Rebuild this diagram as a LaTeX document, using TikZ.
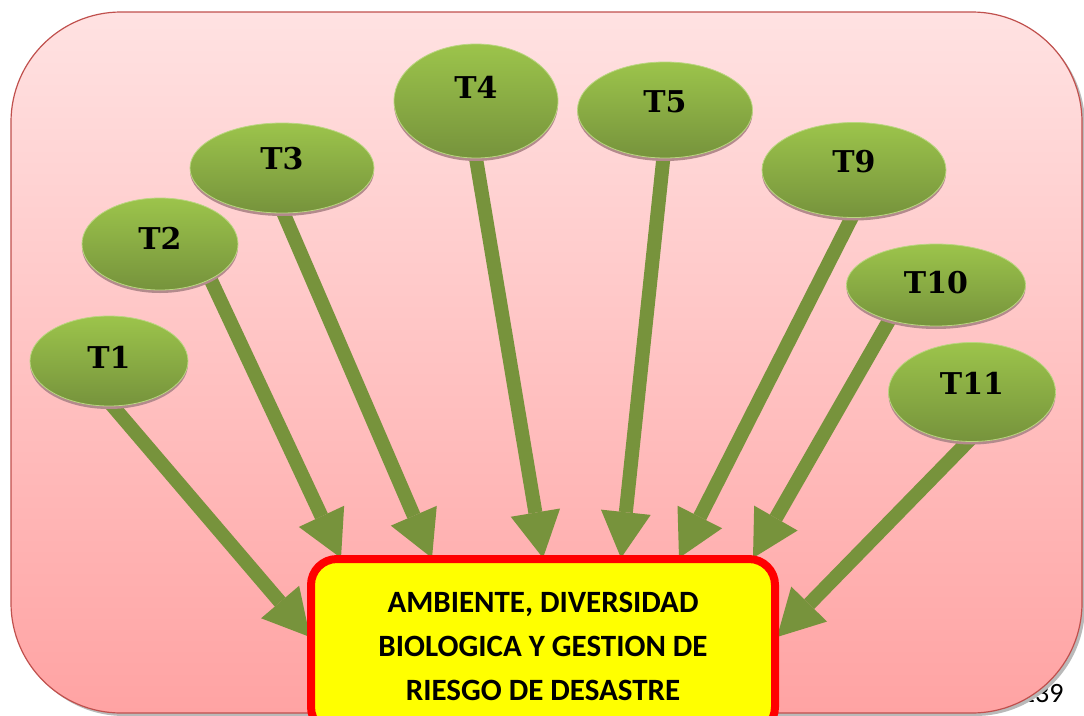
\documentclass[tikz,border=0pt]{standalone}
\usepackage{fontspec}
\setmainfont{Carlito}
\newfontfamily\topicfont{DejaVu Serif}
\usepackage{xcolor}
\usetikzlibrary{shapes.geometric, arrows.meta, shadows, backgrounds}
\definecolor{blushtop}{HTML}{FFE2E2}
\definecolor{blushbottom}{HTML}{FFA3A3}
\definecolor{framered}{HTML}{C0504D}
\definecolor{leaftop}{HTML}{9CC44B}
\definecolor{leafbottom}{HTML}{76933C}
\definecolor{stemgreen}{HTML}{77933C}
\definecolor{shadowrose}{HTML}{B38A8C}
\definecolor{goalyellow}{HTML}{FFFF00}
\definecolor{goalred}{HTML}{FF0000}
\tikzstyle{topic} = [ellipse, inner sep=0pt,
                     top color=leaftop, bottom color=leafbottom,
                     draw=leaftop!70!white, line width=0.8pt,
                     font=\topicfont\bfseries\fontsize{30}{30}\selectfont,
                     drop shadow={shadow xshift=0pt, shadow yshift=-3pt,
                                  fill=shadowrose, opacity=1}]
\tikzstyle{goal} = [rectangle, rounded corners=26pt, draw=goalred, fill=goalyellow,
                    line width=8pt, minimum width=464pt, minimum height=174pt,
                    align=center, font=\bfseries\fontsize{31}{44}\selectfont,
                    drop shadow={shadow xshift=3pt, shadow yshift=-3pt,
                                 fill=gray!70, opacity=1}]
\tikzstyle{arrow} = [-{Triangle[length=46pt, width=50pt, line width=0pt]},
                     line width=14pt, draw=stemgreen, shorten <=-6pt]

\begin{document}
\begin{tikzpicture}[x=1pt, y=-1pt]
    \useasboundingbox (0,0) rectangle (1084,715);
    \clip (0,0) rectangle (1084,715);

    \begin{scope}[on background layer]
        \node[anchor=base east, font=\fontsize{28}{28}\selectfont] (page) at (1067,702) {239};
        \draw[fill=gray!55, draw=none, rounded corners=110pt] (14,15) rectangle (1085,716);
        \draw[top color=blushtop, bottom color=blushbottom, draw=framered,
              line width=1.2pt, rounded corners=110pt] (11,12) rectangle (1082,713);
    \end{scope}

    % topics
    \node[topic, minimum width=158pt, minimum height=90pt, text depth=7pt] (T1) at (109,361) {T1};
    \node[topic, minimum width=156pt, minimum height=92pt, text depth=11pt] (T2) at (160,244) {T2};
    \node[topic, minimum width=184pt, minimum height=90pt, text depth=19pt] (T3) at (282,168) {T3};
    \node[topic, minimum width=164pt, minimum height=114pt, text depth=28pt] (T4) at (476,101) {T4};
    \node[topic, minimum width=175pt, minimum height=96pt, text depth=17pt] (T5) at (665,110) {T5};
    \node[topic, minimum width=184pt, minimum height=95pt, text depth=17pt] (T9) at (854,170) {T9};
    \node[topic, minimum width=179pt, minimum height=82pt, text depth=5pt] (T10) at (936,285) {T10};
    \node[topic, minimum width=167pt, minimum height=99pt, text depth=17pt] (T11) at (972,392) {T11};

    \node[goal] (goal) at (543,646) {AMBIENTE, DIVERSIDAD\\BIOLOGICA Y GESTION DE\\RIESGO DE DESASTRE};

    % arrow tips on the goal box
    \coordinate (in1) at (310,637);
    \coordinate (in2) at (341,558);
    \coordinate (in3) at (432,558);
    \coordinate (in4) at (543,558);
    \coordinate (in5) at (621,558);
    \coordinate (in9) at (679,558);
    \coordinate (in10) at (753,558);
    \coordinate (in11) at (777,637);

    \begin{scope}[on background layer]
        \draw[arrow] (T1.-85) -- (in1);
        \draw[arrow] (T2.-35) -- (in2);
        \draw[arrow] (T3.-88) -- (in3);
        \draw[arrow] (T4.south) -- (in4);
        \draw[arrow] (T5.-92) -- (in5);
        \draw[arrow] (T9.-93) -- (in9);
        \draw[arrow] (T10.-143) -- (in10);
        \draw[arrow] (T11.-95) -- (in11);
    \end{scope}
\end{tikzpicture}
\end{document}
